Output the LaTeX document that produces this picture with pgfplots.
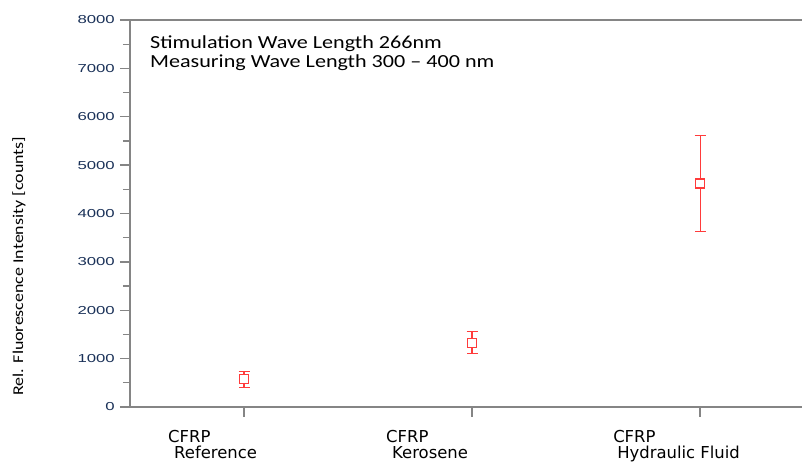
\documentclass[border=0pt]{standalone}
\usepackage{fontspec}
\usepackage{pgfplots}
\pgfplotsset{compat=1.18}
\setmainfont{DejaVu Sans}
\newfontfamily\calib{Carlito}[FakeStretch=1.2]
\newfontfamily\tickf{Liberation Sans}[FakeStretch=1.45]
\newfontfamily\verd{DejaVu Sans}
\definecolor{axgray}{HTML}{858585}
\definecolor{ticknavy}{HTML}{1A3158}
\definecolor{errred}{HTML}{FF3B3B}
\begin{document}
\begin{tikzpicture}
\begin{axis}[
  scale only axis, width=672bp, height=387bp,
  xmin=-0.5, xmax=2.447, ymin=0, ymax=8000,
  clip=false,
  xtick={0,1,2},
  xticklabels={{\hspace*{11bp}CFRP\\\hspace*{17bp}Reference},{\hspace*{1bp}CFRP\\\hspace*{7bp}Kerosene},{CFRP\\\hspace*{4bp}Hydraulic Fluid}},
  ytick={0,1000,...,8000}, minor y tick num=1,
  xtick pos=bottom, ytick pos=left,
  tick align=outside,
  major tick length=10bp, minor tick length=7bp,
  axis line style={draw=none},
  tick style={axgray, line width=1.3bp},
  scaled y ticks=false,
  /pgf/number format/assume math mode=true,
  /pgf/number format/1000 sep={},
  yticklabel style={font=\tickf\fontsize{11.6}{12}\selectfont, text=ticknavy, inner sep=0pt, xshift=-5bp},
  xticklabel style={font=\verd\fontsize{16.5}{16}\selectfont, align=left, anchor=north west, xshift=-87bp, inner sep=0pt, yshift=-13bp},
  ylabel={Rel. Fluorescence Intensity [counts]},
  ylabel style={font=\calib\fontsize{15}{15}\selectfont, at={([xshift=-111bp]rel axis cs:0,0.364)}, anchor=center},
]
\addplot[errred, line width=1.1bp, only marks, mark=none,
  error bars/.cd, y dir=both, y explicit,
  error bar style={errred, line width=1.1bp},
  error mark options={rotate=90, errred, mark size=5.5bp, line width=1.1bp}]
  coordinates {
    (0,570) +- (0,160)
    (1,1330) +- (0,224)
    (2,4620) +- (0,990)
  };
\addplot[errred, only marks, mark=square*, mark size=4.5bp,
  mark options={solid, draw=errred, fill=white, line width=1.1bp}]
  coordinates {
    (0,570)
    (1,1330)
    (2,4620)
  };
\draw[axgray, line width=1.5bp] (rel axis cs:0,1) -- (rel axis cs:0,0) -- (rel axis cs:1,0);
\draw[axgray, line width=1.5bp] (rel axis cs:0,1) -- (rel axis cs:1,1);
\node[anchor=north west, inner sep=0pt, align=left, xshift=20bp, yshift=-16bp,
  font=\calib\fontsize{18.5}{18.4}\selectfont] at (rel axis cs:0,1)
  {Stimulation Wave Length 266nm\\Measuring Wave Length 300 – 400 nm};
\end{axis}
\pgfresetboundingbox
\path ([shift={(-130bp,-57bp)}]current axis.south west) rectangle ([shift={(0bp,20bp)}]current axis.north east);
\end{tikzpicture}
\end{document}
